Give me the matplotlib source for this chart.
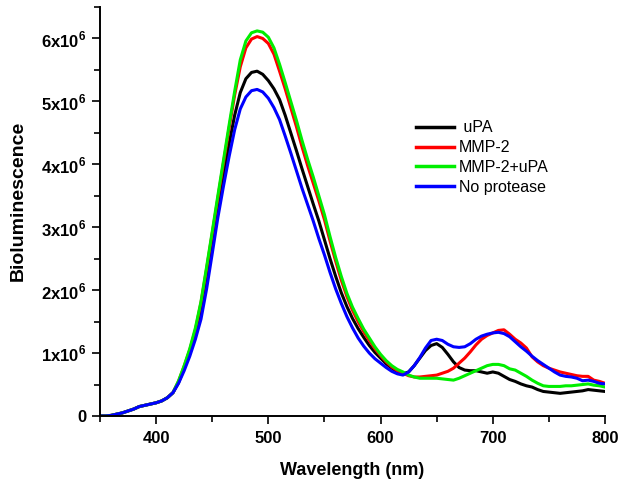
import numpy as np
import matplotlib
matplotlib.use("Agg")
import matplotlib.pyplot as plt
from matplotlib.ticker import MultipleLocator, FixedLocator

plt.rcParams['font.family'] = ['Liberation Sans', 'DejaVu Sans']
plt.rcParams['mathtext.fontset'] = 'custom'
plt.rcParams['mathtext.rm'] = 'Liberation Sans'
plt.rcParams['mathtext.bf'] = 'Liberation Sans:bold'

wavelength = list(range(350, 805, 5))

low = [0.00, 0.00, 0.01, 0.03, 0.05, 0.08, 0.11, 0.15, 0.17, 0.19,
       0.21, 0.24, 0.29, 0.37]  # 350..415

upa = low + [0.53, 0.76, 1.00, 1.30, 1.66, 2.18, 2.75, 3.30, 3.82, 4.32,
             4.78, 5.14, 5.36, 5.46, 5.48, 5.43, 5.33, 5.20, 5.03, 4.78,
             4.50, 4.22, 3.93, 3.65, 3.37, 3.10, 2.80, 2.50, 2.22, 1.96,
             1.74, 1.55, 1.39, 1.25, 1.12, 1.01, 0.92, 0.83, 0.76, 0.70,
             0.67, 0.70, 0.80, 0.92, 1.04, 1.12, 1.15, 1.09, 0.98, 0.86,
             0.77, 0.73, 0.72, 0.72, 0.70, 0.68, 0.70, 0.68, 0.63, 0.58,
             0.55, 0.51, 0.48, 0.46, 0.42, 0.39, 0.38, 0.37, 0.36, 0.37,
             0.38, 0.39, 0.40, 0.42, 0.41, 0.40, 0.39]

mmp2 = low + [0.55, 0.79, 1.05, 1.37, 1.80, 2.34, 2.90, 3.46, 4.02, 4.57,
              5.10, 5.55, 5.85, 5.99, 6.03, 6.00, 5.92, 5.75, 5.48, 5.20,
              4.90, 4.60, 4.28, 3.98, 3.70, 3.42, 3.12, 2.78, 2.46, 2.16,
              1.90, 1.68, 1.50, 1.34, 1.20, 1.07, 0.96, 0.86, 0.78, 0.72,
              0.68, 0.64, 0.62, 0.62, 0.63, 0.64, 0.65, 0.68, 0.71, 0.76,
              0.84, 0.92, 1.02, 1.13, 1.22, 1.28, 1.32, 1.36, 1.37, 1.30,
              1.22, 1.16, 1.08, 0.94, 0.86, 0.80, 0.76, 0.73, 0.70, 0.68,
              0.66, 0.64, 0.63, 0.63, 0.57, 0.55, 0.52]

mmp2_upa = low + [0.56, 0.80, 1.07, 1.40, 1.82, 2.37, 2.93, 3.50, 4.06, 4.62,
                  5.16, 5.66, 5.96, 6.09, 6.12, 6.10, 6.02, 5.85, 5.59, 5.30,
                  5.00, 4.70, 4.38, 4.08, 3.80, 3.50, 3.20, 2.85, 2.52, 2.22,
                  1.95, 1.73, 1.55, 1.38, 1.24, 1.10, 0.98, 0.88, 0.80, 0.74,
                  0.70, 0.65, 0.62, 0.60, 0.60, 0.60, 0.60, 0.59, 0.58, 0.57,
                  0.60, 0.64, 0.68, 0.72, 0.76, 0.80, 0.82, 0.82, 0.80, 0.75,
                  0.73, 0.68, 0.63, 0.57, 0.52, 0.48, 0.47, 0.47, 0.47, 0.48,
                  0.48, 0.49, 0.50, 0.51, 0.49, 0.48, 0.46]

no_protease = low + [0.52, 0.72, 0.95, 1.22, 1.54, 2.02, 2.58, 3.15, 3.65, 4.12,
                     4.55, 4.88, 5.07, 5.17, 5.19, 5.15, 5.05, 4.90, 4.71, 4.45,
                     4.18, 3.90, 3.62, 3.36, 3.10, 2.82, 2.56, 2.28, 2.02, 1.79,
                     1.58, 1.40, 1.24, 1.11, 1.00, 0.91, 0.84, 0.77, 0.71, 0.67,
                     0.65, 0.70, 0.80, 0.93, 1.08, 1.20, 1.22, 1.20, 1.14, 1.10,
                     1.09, 1.10, 1.15, 1.22, 1.27, 1.30, 1.32, 1.33, 1.31, 1.26,
                     1.18, 1.10, 1.03, 0.95, 0.88, 0.82, 0.76, 0.70, 0.65, 0.63,
                     0.62, 0.60, 0.56, 0.57, 0.55, 0.52, 0.51]

series = [
    (" uPA", upa, "#000000"),
    ("MMP-2", mmp2, "#ff0000"),
    ("MMP-2+uPA", mmp2_upa, "#00ee00"),
    ("No protease", no_protease, "#0000ff"),
]

fig = plt.figure(figsize=(6.26, 4.87), dpi=100)
ax = fig.add_axes([100/626, 71/487, 505/626, 409/487])

x = np.array(wavelength)
for label, vals, color in series:
    ax.plot(x, np.array(vals) * 1e6, color=color, lw=2.2, label=label,
            solid_joinstyle="round")

ax.set_xlim(350, 800)
ax.set_ylim(0, 6.5e6)

ax.xaxis.set_major_locator(FixedLocator([400, 500, 600, 700, 800]))
ax.xaxis.set_minor_locator(MultipleLocator(50))
ax.yaxis.set_major_locator(FixedLocator([0, 1e6, 2e6, 3e6, 4e6, 5e6, 6e6]))
ax.yaxis.set_minor_locator(MultipleLocator(0.5e6))

ytick_labels = ["0"] + [r"%dx10$^{\mathbf{6}}$" % i for i in range(1, 7)]
ax.set_yticklabels(ytick_labels)
ax.set_xticklabels(["400", "500", "600", "700", "800"])

for lab in ax.get_xticklabels() + ax.get_yticklabels():
    lab.set_fontweight("bold")
    lab.set_fontsize(12)

ax.tick_params(which="major", direction="out", length=6, width=1.2, pad=4)
ax.tick_params(which="minor", direction="out", length=4, width=1.2)
ax.tick_params(axis="x", which="major", pad=5)

ax.spines["top"].set_visible(False)
ax.spines["right"].set_visible(False)
ax.spines["left"].set_linewidth(1.4)
ax.spines["bottom"].set_linewidth(1.4)

ax.set_xlabel("Wavelength (nm)", fontsize=13, fontweight="bold", labelpad=11)
ax.set_ylabel("Bioluminescence", fontsize=14, fontweight="bold")
ax.yaxis.set_label_coords(-0.145, 0.526)

leg = ax.legend(loc="upper left", bbox_to_anchor=(0.604, 0.75), frameon=False,
                fontsize=11.5, handlelength=2.35, handletextpad=0.3,
                labelspacing=0.3, borderpad=0.2)
for line in leg.get_lines():
    line.set_linewidth(2.5)

fig.savefig("out.png", dpi=100)
